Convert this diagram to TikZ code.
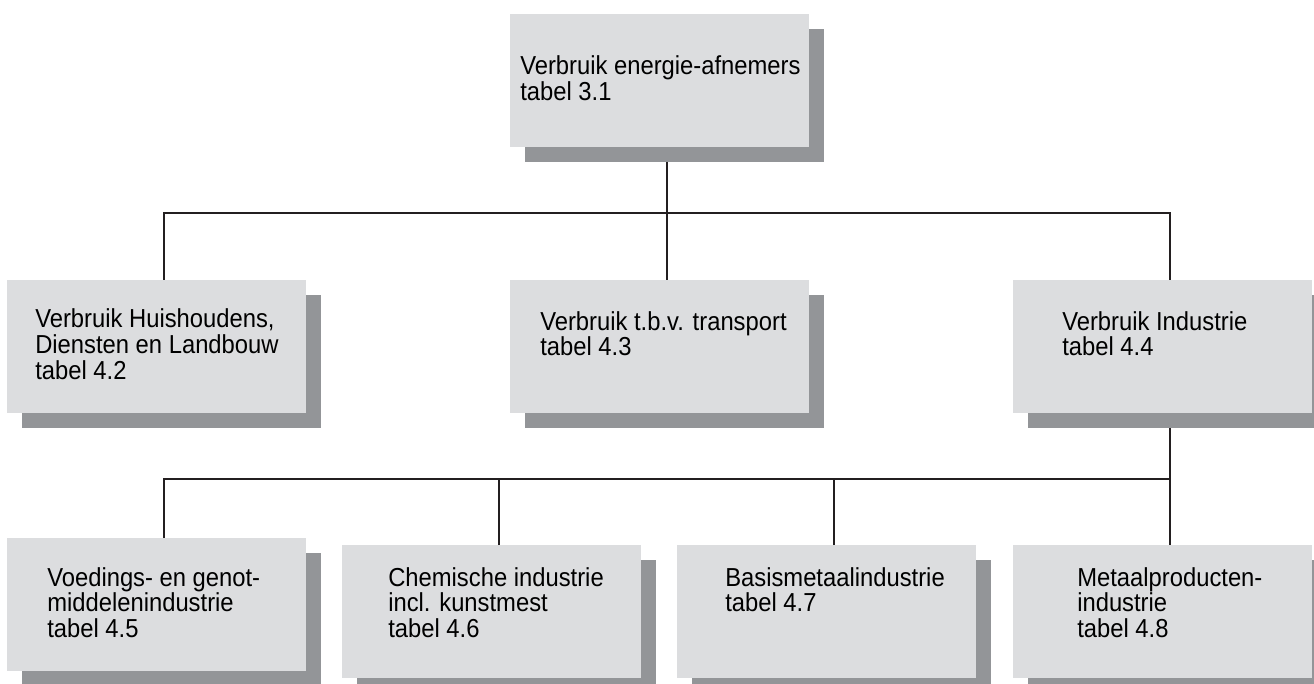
\documentclass[tikz,border=0pt]{standalone}
\usepackage{fontspec}
\setmainfont{Liberation Sans}[FakeStretch=0.915]
\definecolor{boxfill}{RGB}{220,221,223}
\definecolor{shadowfill}{RGB}{147,149,152}
\definecolor{linec}{RGB}{35,31,32}
\begin{document}
\begin{tikzpicture}[x=0.75pt,y=-0.75pt,
  card/.style={minimum width=235.5pt,minimum height=111pt,inner sep=0pt,outer sep=0pt,
    path picture={
      \fill[shadowfill] ([xshift=11.25pt]path picture bounding box.south west) rectangle ([yshift=-11.25pt]path picture bounding box.north east);
      \fill[boxfill] (path picture bounding box.north west) rectangle ([xshift=-11.25pt,yshift=11.25pt]path picture bounding box.south east);
    }},
  txt/.style={anchor=base west,align=left,inner sep=0pt,font=\fontsize{19.5pt}{19.2pt}\selectfont},
  conn/.style={draw=linec,line width=0.8pt}]
\clip (0,0) rectangle (1314,684);
% boxes (box + shadow as one node)
\node[card] (t)  at (667,88) {};
\node[card] (b1) at (164,354) {};
\node[card] (b2) at (667,354) {};
\node[card] (b3) at (1170,354) {};
\node[card] (c1) at (164,612) {};
\node[card] (c2) at (499,619) {};
\node[card] (c3) at (834,619) {};
\node[card] (c4) at (1170,619) {};
% junctions
\coordinate (j1) at (667,213);
\coordinate (j2) at (1170,479);
% connectors
\draw[conn] (t.south) -- (j1);
\draw[conn] (b1.north) |- (j1) -| (b3.north);
\draw[conn] (j1) -- (b2.north);
\draw[conn] (b3.south) -- (c4.north);
\draw[conn] (c1.north) |- (j2);
\draw[conn] (c2.north) -- (c2.north |- j2);
\draw[conn] (c3.north) -- (c3.north |- j2);
% texts (anchored at the baseline of the last line)
\node[txt] (tt)  at (520,100.6)  {Verbruik energie-afnemers\\tabel 3.1};
\node[txt] (tb1) at (35,379.2)   {Verbruik Huishoudens,\\Diensten en Landbouw\\tabel 4.2};
\node[txt] (tb2) at (540,355.6)  {Verbruik t.b.v. transport\\tabel 4.3};
\node[txt] (tb3) at (1062,355.6) {Verbruik Industrie\\tabel 4.4};
\node[txt] (tc1) at (47,637.2)   {Voedings- en genot-\\middelenindustrie\\tabel 4.5};
\node[txt] (tc2) at (388,637.2)  {Chemische industrie\\incl. kunstmest\\tabel 4.6};
\node[txt] (tc3) at (725,611.6)  {Basismetaalindustrie\\tabel 4.7};
\node[txt] (tc4) at (1077,637.2) {Metaalproducten-\\industrie\\tabel 4.8};
\end{tikzpicture}
\end{document}
